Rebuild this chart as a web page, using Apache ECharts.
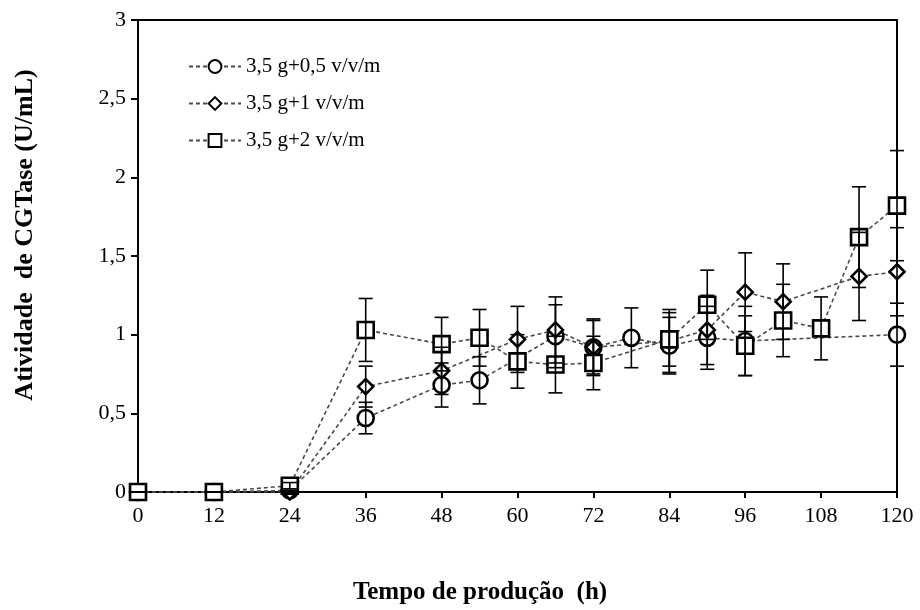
<!DOCTYPE html>
<html>
<head>
<meta charset="utf-8">
<script src="https://cdn.jsdelivr.net/npm/echarts@6/dist/echarts.min.js"></script>
<style>html,body{margin:0;padding:0;background:#fff}#c{width:920px;height:610px}</style>
</head>
<body>
<div id="c"></div>
<script>
// ---- data ----
var seriesNames = ['3,5 g+0,5 v/v/m', '3,5 g+1 v/v/m', '3,5 g+2 v/v/m'];
var xTicks = [0, 12, 24, 36, 48, 60, 72, 84, 96, 108, 120];
var yTicks = [0, 0.5, 1, 1.5, 2, 2.5, 3];

var t1 = [0, 12, 24, 36, 48, 54, 66, 72, 78, 84, 90, 96, 120];
var v1 = [0, 0, 0.01, 0.47, 0.68, 0.71, 0.99, 0.92, 0.98, 0.93, 0.98, 0.96, 1.00];
var e1 = [0, 0, 0, 0.10, 0.14, 0.15, 0.20, 0.18, 0.19, 0.18, 0.20, 0.22, 0.20];

var t2 = [0, 12, 24, 36, 48, 60, 66, 72, 84, 90, 96, 102, 114, 120];
var v2 = [0, 0, 0, 0.67, 0.77, 0.97, 1.03, 0.92, 0.96, 1.03, 1.27, 1.21, 1.37, 1.40];
var e2 = [0, 0, 0, 0.13, 0.15, 0.21, 0.21, 0.17, 0.20, 0.22, 0.25, 0.24, 0.28, 0.28];

var t3 = [0, 12, 24, 36, 48, 54, 60, 66, 72, 84, 90, 96, 102, 108, 114, 120];
var v3 = [0, 0, 0.04, 1.03, 0.94, 0.98, 0.83, 0.81, 0.82, 0.97, 1.19, 0.93, 1.09, 1.04, 1.62, 1.82];
var e3 = [0, 0, 0.02, 0.20, 0.17, 0.18, 0.17, 0.18, 0.17, 0.17, 0.22, 0.19, 0.23, 0.20, 0.32, 0.35];

var yTitle = 'Atividade  de CGTase (U/mL)';
var xTitle = 'Tempo de produção  (h)';

// ---- build ----
function pts(t, v) { return t.map(function (x, i) { return [x, v[i]]; }); }
function errs(t, v, e) { return t.map(function (x, i) { return [x, v[i] - e[i], v[i] + e[i]]; }); }

var FONT = '"Liberation Serif", "Times New Roman", serif';
var symbols = ['circle', 'diamond', 'rect'];
var sizes = [16, 15, 16];
var T = [t1, t2, t3], V = [v1, v2, v3], E = [e1, e2, e3];

var series = [];
for (var k = 0; k < 3; k++) {
  series.push({
    type: 'custom',
    name: 'err' + k,
    z: 4,
    silent: true,
    data: errs(T[k], V[k], E[k]),
    encode: { x: 0, y: [1, 2] },
    renderItem: function (params, api) {
      var x = api.value(0);
      var lo = api.coord([x, api.value(1)]);
      var hi = api.coord([x, api.value(2)]);
      var w = 7;
      var st = { stroke: '#000', lineWidth: 1.6 };
      return {
        type: 'group',
        children: [
          { type: 'line', shape: { x1: lo[0], y1: lo[1], x2: hi[0], y2: hi[1] }, style: st },
          { type: 'line', shape: { x1: lo[0] - w, y1: lo[1], x2: lo[0] + w, y2: lo[1] }, style: st },
          { type: 'line', shape: { x1: hi[0] - w, y1: hi[1], x2: hi[0] + w, y2: hi[1] }, style: st }
        ]
      };
    }
  });
}
for (var k2 = 0; k2 < 3; k2++) {
  series.push({
    type: 'line',
    name: seriesNames[k2],
    z: 3,
    data: pts(T[k2], V[k2]),
    symbol: symbols[k2],
    symbolSize: sizes[k2],
    showAllSymbol: true,
    lineStyle: { color: '#4a4a4a', width: 1.6, type: [4, 3] },
    itemStyle: { color: '#fff', borderColor: '#000', borderWidth: 2.6 },
    emphasis: { disabled: true }
  });
}

var chart = echarts.init(document.getElementById('c'), null, { renderer: 'canvas' });
chart.setOption({
  animation: false,
  backgroundColor: '#fff',
  grid: { left: 138, right: 23, top: 20, bottom: 118, show: true, borderColor: '#000', borderWidth: 2, backgroundColor: 'transparent' },
  legend: {
    data: seriesNames,
    orient: 'vertical',
    left: 183,
    top: 51,
    itemWidth: 52,
    itemHeight: 16,
    itemGap: 16,
    textStyle: { fontFamily: FONT, fontSize: 21, color: '#000' }
  },
  xAxis: {
    type: 'value', min: 0, max: 120, interval: 12,
    splitLine: { show: false },
    axisLine: { onZero: false, lineStyle: { color: '#000', width: 2 } },
    axisTick: { show: true, inside: false, length: 6, lineStyle: { color: '#000', width: 2 } },
    axisLabel: { margin: 13, fontFamily: FONT, fontSize: 22, color: '#000',
      formatter: function (v) { return xTicks.indexOf(v) >= 0 ? String(v) : ''; } }
  },
  yAxis: {
    type: 'value', min: 0, max: 3, interval: 0.5,
    splitLine: { show: false },
    axisLine: { onZero: false, lineStyle: { color: '#000', width: 2 } },
    axisTick: { show: true, inside: false, length: 7, lineStyle: { color: '#000', width: 2 } },
    axisLabel: { margin: 12, fontFamily: FONT, fontSize: 22, color: '#000',
      formatter: function (v) { return yTicks.indexOf(v) >= 0 ? String(v).replace('.', ',') : ''; } }
  },
  graphic: [
    { type: 'text', x: 25, y: 235, rotation: Math.PI / 2,
      style: { text: yTitle, x: 0, y: 0, align: 'center', verticalAlign: 'middle', fontFamily: FONT, fontSize: 26, fontWeight: 'bold', fill: '#000' } },
    { type: 'text', x: 480, y: 593,
      style: { text: xTitle, x: 0, y: 0, align: 'center', verticalAlign: 'middle', fontFamily: FONT, fontSize: 25, fontWeight: 'bold', fill: '#000' } }
  ],
  series: series
});
</script>
</body>
</html>
